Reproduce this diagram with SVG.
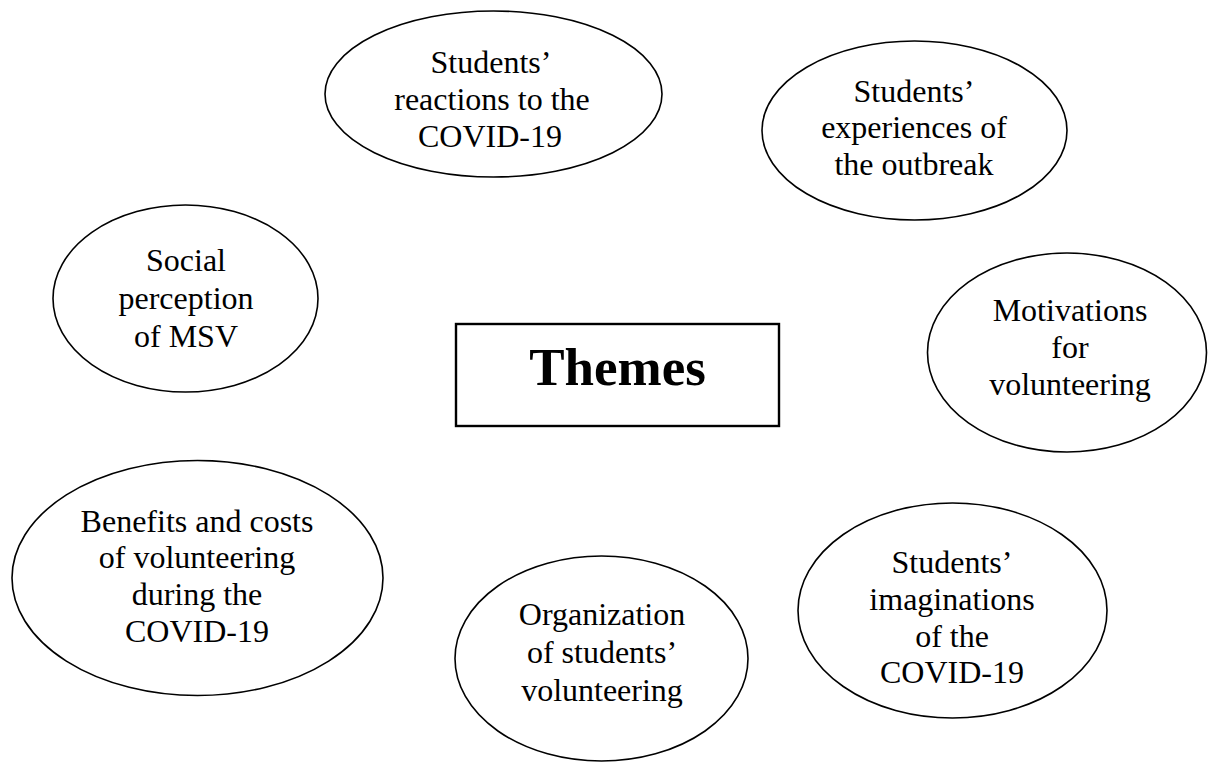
<svg xmlns="http://www.w3.org/2000/svg" width="1208" height="762" viewBox="0 0 1208 762">
<style>
.n{fill:#fff;stroke:#000;stroke-width:1.6}
.b{fill:#fff;stroke:#000;stroke-width:2.4}
.t{font-family:"Liberation Serif","Times New Roman",serif;font-size:32px;fill:#000;text-anchor:middle}
.h{font-family:"Liberation Serif","Times New Roman",serif;font-size:53px;font-weight:bold;fill:#000;text-anchor:middle}
</style>
<rect width="1208" height="762" fill="#fff"/>
<g id="connectors"></g>
<g id="themes">
<rect class="b" x="456" y="324" width="323" height="102"/>
<text class="h" x="617.5" y="385">Themes</text>
</g>
<g id="reactions">
<ellipse class="n" cx="493.5" cy="94" rx="168.5" ry="83"/>
<text class="t" x="491" y="73">Students’</text>
<text class="t" x="492" y="110">reactions to the</text>
<text class="t" x="490" y="147">COVID-19</text>
</g>
<g id="experiences">
<ellipse class="n" cx="914.5" cy="130.5" rx="152.5" ry="89.5"/>
<text class="t" x="914" y="102">Students’</text>
<text class="t" x="914" y="138">experiences of</text>
<text class="t" x="914" y="175">the outbreak</text>
</g>
<g id="social">
<ellipse class="n" cx="185.5" cy="298.5" rx="132.5" ry="93.5"/>
<text class="t" x="186" y="271">Social</text>
<text class="t" x="186" y="309">perception</text>
<text class="t" x="186" y="347">of MSV</text>
</g>
<g id="motivations">
<ellipse class="n" cx="1067" cy="352.5" rx="139.5" ry="99.5"/>
<text class="t" x="1070" y="321">Motivations</text>
<text class="t" x="1070" y="358">for</text>
<text class="t" x="1070" y="395">volunteering</text>
</g>
<g id="benefits">
<ellipse class="n" cx="197.5" cy="578" rx="185.5" ry="117.5"/>
<text class="t" x="197" y="532">Benefits and costs</text>
<text class="t" x="197" y="568">of volunteering</text>
<text class="t" x="197" y="605">during the</text>
<text class="t" x="197" y="642">COVID-19</text>
</g>
<g id="organization">
<ellipse class="n" cx="601.5" cy="658.5" rx="146.5" ry="102.5"/>
<text class="t" x="602" y="625">Organization</text>
<text class="t" x="602" y="663">of students’</text>
<text class="t" x="602" y="701">volunteering</text>
</g>
<g id="imaginations">
<ellipse class="n" cx="952.5" cy="610.5" rx="154.5" ry="107.5"/>
<text class="t" x="952" y="573">Students’</text>
<text class="t" x="952" y="610">imaginations</text>
<text class="t" x="952" y="647">of the</text>
<text class="t" x="952" y="683">COVID-19</text>
</g>
</svg>
